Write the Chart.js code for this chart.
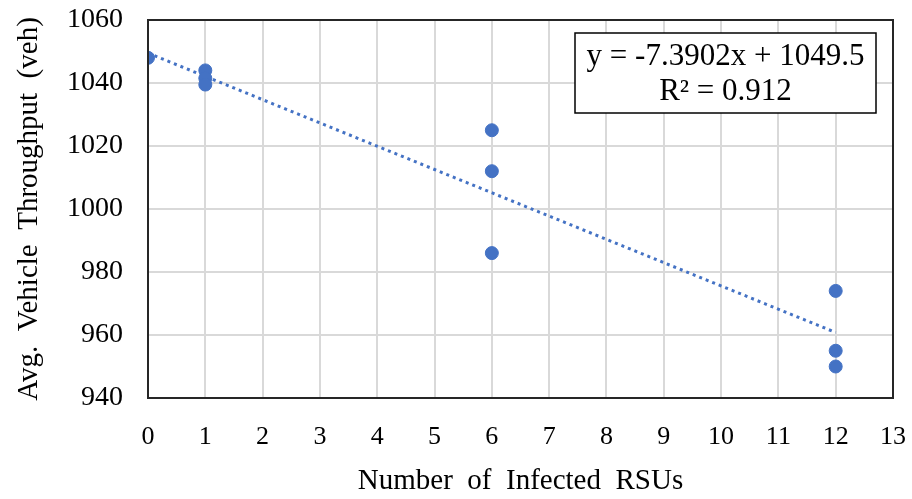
<!DOCTYPE html>
<html>
<head>
<meta charset="utf-8">
<script src="https://cdn.jsdelivr.net/npm/chart.js@4.4.0/dist/chart.umd.min.js"></script>
<style>
  html, body { margin: 0; padding: 0; background: #fff; }
  #wrap { width: 912px; height: 499px; }
</style>
</head>
<body>
<div id="wrap"><canvas id="myChart" width="912" height="499"></canvas></div>
<script>
const infectedRsus = [0, 1, 1, 1, 6, 6, 6, 12, 12, 12];
const throughput = [1048, 1044, 1041.5, 1039.5, 1025, 1012, 986, 974, 955, 950];
const trendX = [0, 12];
const trendY = [1049.5, 960.8];
const equationLines = ['y = -7.3902x + 1049.5', 'R\u00b2 = 0.912'];

const blue = '#4472C4';
const serif = '"Liberation Serif", "Times New Roman", serif';

const frame = {
    id: 'frame',
    afterDatasetsDraw(chart) {
        const { ctx, chartArea: a } = chart;
        ctx.save();
        ctx.strokeStyle = '#262626';
        ctx.lineWidth = 2;
        ctx.strokeRect(a.left, a.top, a.right - a.left, a.bottom - a.top);

        // equation box
        const bx = 575, by = 33, bw = 301, bh = 80;
        ctx.fillStyle = '#fff';
        ctx.fillRect(bx, by, bw, bh);
        ctx.lineWidth = 1.5;
        ctx.strokeStyle = '#000';
        ctx.strokeRect(bx, by, bw, bh);
        ctx.fillStyle = '#000';
        ctx.font = '31px ' + serif;
        ctx.textAlign = 'center';
        ctx.textBaseline = 'middle';
        ctx.fillText(equationLines[0], bx + bw / 2, by + 24);
        ctx.fillText(equationLines[1], bx + bw / 2, by + 59);
        ctx.restore();
    }
};

const ctx = document.getElementById('myChart').getContext('2d');

const myChart = new Chart(ctx, {
    type: 'scatter',
    data: {
        datasets: [{
            data: infectedRsus.map((x, i) => ({ x: x, y: throughput[i] })),
            backgroundColor: blue,
            borderColor: blue,
            pointRadius: 6.5,
            pointHoverRadius: 6.5,
            order: 1
        }, {
            type: 'line',
            data: trendX.map((x, i) => ({ x: x, y: trendY[i] })),
            borderColor: blue,
            borderWidth: 3,
            borderDash: [3, 4],
            pointRadius: 0,
            fill: false,
            order: 2
        }]
    },
    options: {
        responsive: false,
        maintainAspectRatio: false,
        animation: false,
        layout: { padding: { top: 20, right: 19, left: 0, bottom: 0 } },
        scales: {
            x: {
                type: 'linear',
                min: 0,
                max: 13,
                ticks: {
                    stepSize: 1,
                    color: '#000',
                    padding: 24,
                    font: { family: serif, size: 26 }
                },
                grid: { color: '#d9d9d9', lineWidth: 2, drawTicks: false },
                border: { display: false },
                title: {
                    display: true,
                    text: 'Number  of  Infected  RSUs',
                    color: '#000',
                    font: { family: serif, size: 29 },
                    padding: { top: 10, bottom: 0 }
                },
                afterFit(scale) {
                    scale.height = 101;
                    scale.paddingLeft = 0;
                    scale.paddingRight = 0;
                }
            },
            y: {
                min: 940,
                max: 1060,
                ticks: {
                    stepSize: 20,
                    color: '#000',
                    padding: 25,
                    font: { family: serif, size: 28 },
                    callback: v => String(v)
                },
                grid: { color: '#d9d9d9', lineWidth: 2, drawTicks: false },
                border: { display: false },
                title: {
                    display: true,
                    text: 'Avg.  Vehicle  Throughput  (veh)',
                    color: '#000',
                    font: { family: serif, size: 29 },
                    padding: { top: 12, bottom: 4 }
                },
                afterFit(scale) {
                    scale.width = 148;
                    scale.paddingTop = 0;
                    scale.paddingBottom = 0;
                }
            }
        },
        plugins: {
            legend: { display: false },
            tooltip: { enabled: false }
        }
    },
    plugins: [frame]
});
</script>
</body>
</html>
